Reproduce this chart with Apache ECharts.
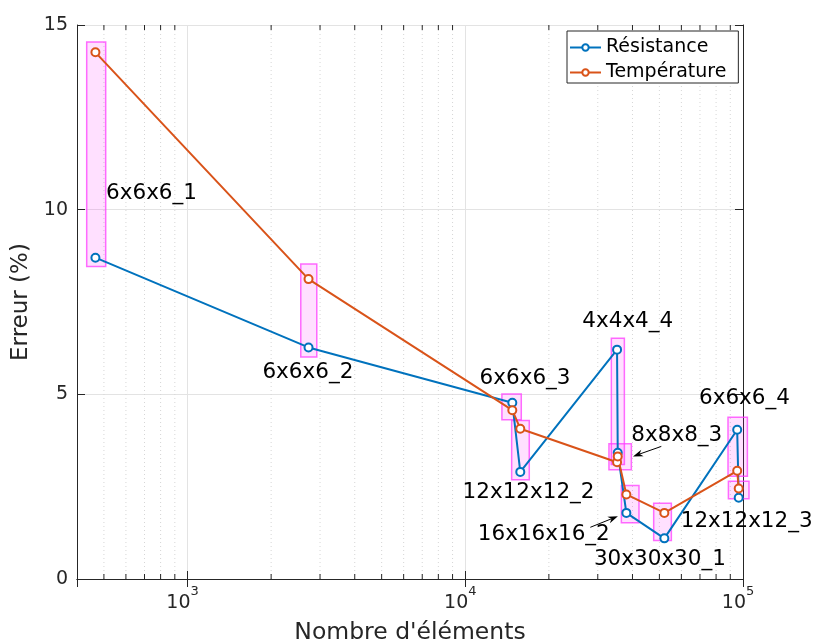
<!DOCTYPE html>
<html><head><meta charset="utf-8">
<script src="https://cdn.jsdelivr.net/npm/echarts@6/dist/echarts.min.js"></script>
<style>html,body{margin:0;padding:0;background:#fff}#c{width:817px;height:644px}</style>
</head><body><div id="c"></div>
<script>
// ---- data ----
const configs = ['6x6x6_1','6x6x6_2','6x6x6_3','12x12x12_2','4x4x4_4','8x8x8_3','16x16x16_2','30x30x30_1','6x6x6_4','12x12x12_3'];
const elements = [466, 2727, 14770, 15780, 35200, 35400, 38020, 52100, 95300, 96500];
const resistance = [8.70, 6.27, 4.77, 2.90, 6.21, 3.42, 1.79, 1.10, 4.04, 2.20];
const temperature = [14.26, 8.12, 4.57, 4.07, 3.16, 3.32, 2.29, 1.79, 2.93, 2.45];
// highlight boxes around each configuration: [xMin, xMax, yMin, yMax] (data units)
const boxes = [
  [433.5, 507.4, 8.46, 14.54],
  [2557, 2920, 6.01, 8.53],
  [13550, 15910, 4.31, 5.01],
  [14690, 17000, 2.69, 4.29],
  [33570, 37400, 3.10, 6.52],
  [32910, 39630, 2.96, 3.66],
  [36480, 42220, 1.52, 2.53],
  [47690, 55210, 1.04, 2.05],
  [88310, 103700, 2.78, 4.38],
  [88600, 105100, 2.17, 2.65]
];
// annotation anchors (left edge, vertical middle) in data units
const labelX = [509, 1861, 11260, 9779, 26390, 39630, 11100, 29060, 69420, 59660];
const labelY = [10.43, 5.59, 5.42, 2.34, 6.97, 3.89, 1.20, 0.53, 4.88, 1.56];
// arrows [xFrom, yFrom, xTo, yTo]
const arrows = [
  [50800, 3.59, 40170, 3.32],
  [28200, 1.40, 35450, 1.70]
];
const minorTicks = [500,600,700,800,900,2000,3000,4000,5000,6000,7000,8000,9000,20000,30000,40000,50000,60000,70000,80000,90000];
const xTickValues = [1000, 10000, 100000];
const xTickBase = ['10', '10', '10'];
const xTickExp = ['3', '4', '5'];

const FONT = 'DejaVu Sans';
const AX = '#262626';
const BLUE = '#0072BD', ORANGE = '#D95319';

const chart = echarts.init(document.getElementById('c'));
const xCommon = {type:'log', logBase:10, min:400, max:100000, gridIndex:0};
chart.setOption({
  animation:false,
  backgroundColor:'#fff',
  textStyle:{fontFamily:FONT, fontSize:19, color:AX},
  grid:{left:77, right:74, top:25, bottom:65, containLabel:false, outerBoundsMode:'none'},
  legend:{
    left:567, top:31, orient:'vertical',
    backgroundColor:'#fff', borderColor:AX, borderWidth:1,
    padding:[7,12,1,2], itemGap:6, itemWidth:31, itemHeight:8,
    textStyle:{fontFamily:FONT, fontSize:19, color:'#000'},
    data:['Résistance','Température']
  },
  xAxis:[
    Object.assign({}, xCommon, {
      position:'bottom',
      name:"Nombre d'éléments", nameLocation:'middle', nameGap:42,
      nameTextStyle:{fontFamily:FONT, fontSize:23.5, color:AX},
      axisLine:{lineStyle:{color:AX, width:1}},
      axisTick:{inside:true, length:8, lineStyle:{color:AX}},
      axisLabel:{show:false},
      splitLine:{show:true, lineStyle:{color:'#e3e3e3', width:1}}
    }),
    Object.assign({}, xCommon, {
      position:'top',
      axisLine:{lineStyle:{color:AX, width:1}},
      axisTick:{inside:true, length:8, lineStyle:{color:AX}},
      axisLabel:{show:false}, splitLine:{show:false}
    })
  ],
  yAxis:[
    {type:'value', min:0, max:15, interval:5, position:'left',
     name:'Erreur (%)', nameLocation:'middle', nameGap:39,
     nameTextStyle:{fontFamily:FONT, fontSize:23, color:AX},
     axisLine:{show:true, lineStyle:{color:AX, width:1}},
     axisTick:{show:true, inside:true, length:8, lineStyle:{color:AX}},
     axisLabel:{fontFamily:FONT, fontSize:19, color:AX, margin:9},
     splitLine:{show:true, lineStyle:{color:'#e3e3e3', width:1}}},
    {type:'value', min:0, max:15, interval:5, position:'right',
     axisLine:{show:true, lineStyle:{color:AX, width:1}},
     axisTick:{show:true, inside:true, length:8, lineStyle:{color:AX}},
     axisLabel:{show:false}, splitLine:{show:false}}
  ],
  series:[
    { // minor grid + minor ticks
      type:'custom', silent:true, clip:false, z:0, xAxisIndex:0, yAxisIndex:0,
      data: minorTicks.map(v => [v, 0]),
      encode:{x:0, y:1},
      renderItem(params, api){
        const b = api.coord([api.value(0), 0]);
        const t = api.coord([api.value(0), 15]);
        return {type:'group', children:[
          {type:'line', shape:{x1:b[0], y1:b[1], x2:t[0], y2:t[1]}, style:{stroke:'#d6d6d6', lineWidth:1, lineDash:[1,3]}},
          {type:'line', shape:{x1:b[0], y1:b[1], x2:b[0], y2:b[1]-5}, style:{stroke:AX, lineWidth:1}},
          {type:'line', shape:{x1:t[0], y1:t[1], x2:t[0], y2:t[1]+5}, style:{stroke:AX, lineWidth:1}}
        ]};
      }
    },
    { // x tick labels 10^k
      type:'custom', silent:true, clip:false, z:5, xAxisIndex:0, yAxisIndex:0,
      data: xTickValues.map(v => [v, 0]), encode:{x:0, y:1},
      renderItem(params, api){
        const p = api.coord([api.value(0), 0]);
        const i = params.dataIndex;
        return {type:'group', children:[
          {type:'text', x:p[0]+3, y:p[1]+15, style:{text:xTickBase[i], fontFamily:FONT, fontSize:19, fill:AX, align:'right', verticalAlign:'top'}},
          {type:'text', x:p[0]+3, y:p[1]+6, style:{text:xTickExp[i], fontFamily:FONT, fontSize:13, fill:AX, align:'left', verticalAlign:'top'}}
        ]};
      }
    },
    { // highlight boxes
      type:'custom', silent:true, clip:false, z:1, xAxisIndex:0, yAxisIndex:0,
      data: boxes, encode:{x:[0,1], y:[2,3]},
      renderItem(params, api){
        const p0 = api.coord([api.value(0), api.value(3)]);
        const p1 = api.coord([api.value(1), api.value(2)]);
        return {type:'rect', shape:{x:p0[0], y:p0[1], width:p1[0]-p0[0], height:p1[1]-p0[1]},
          style:{fill:'rgba(255,0,255,0.12)', stroke:'rgba(255,60,255,0.75)', lineWidth:1.5}};
      }
    },
    {
      name:'Résistance', type:'line', z:3, xAxisIndex:0, yAxisIndex:0,
      data: elements.map((x,i) => [x, resistance[i]]),
      symbol:'emptyCircle', symbolSize:8,
      lineStyle:{color:BLUE, width:2}, itemStyle:{color:BLUE, borderWidth:1.5}
    },
    {
      name:'Température', type:'line', z:3, xAxisIndex:0, yAxisIndex:0,
      data: elements.map((x,i) => [x, temperature[i]]),
      symbol:'emptyCircle', symbolSize:8,
      lineStyle:{color:ORANGE, width:2}, itemStyle:{color:ORANGE, borderWidth:1.5}
    },
    { // annotation texts
      type:'custom', silent:true, clip:false, z:5, xAxisIndex:0, yAxisIndex:0,
      data: labelX.map((x,i) => [x, labelY[i]]), encode:{x:0, y:1},
      renderItem(params, api){
        const p = api.coord([api.value(0), api.value(1)]);
        return {type:'text', x:p[0], y:p[1], style:{text:configs[params.dataIndex], fontFamily:FONT, fontSize:21.5, fill:'#000', align:'left', verticalAlign:'middle'}};
      }
    },
    { // arrows
      type:'custom', silent:true, clip:false, z:5, xAxisIndex:0, yAxisIndex:0,
      data: arrows, encode:{x:[0,2], y:[1,3]},
      renderItem(params, api){
        const a = api.coord([api.value(0), api.value(1)]);
        const b = api.coord([api.value(2), api.value(3)]);
        const ang = Math.atan2(b[1]-a[1], b[0]-a[0]);
        const c = Math.cos(ang), s = Math.sin(ang);
        const L = 10, W = 3.5;
        const bx = b[0]-L*c, by = b[1]-L*s;
        const nx = b[0]-L*0.7*c, ny = b[1]-L*0.7*s;
        return {type:'group', children:[
          {type:'line', shape:{x1:a[0], y1:a[1], x2:nx, y2:ny}, style:{stroke:'#000', lineWidth:1}},
          {type:'polygon', shape:{points:[[b[0],b[1]],[bx - s*W, by + c*W],[nx,ny],[bx + s*W, by - c*W]]}, style:{fill:'#000'}}
        ]};
      }
    }
  ]
});
</script></body></html>
